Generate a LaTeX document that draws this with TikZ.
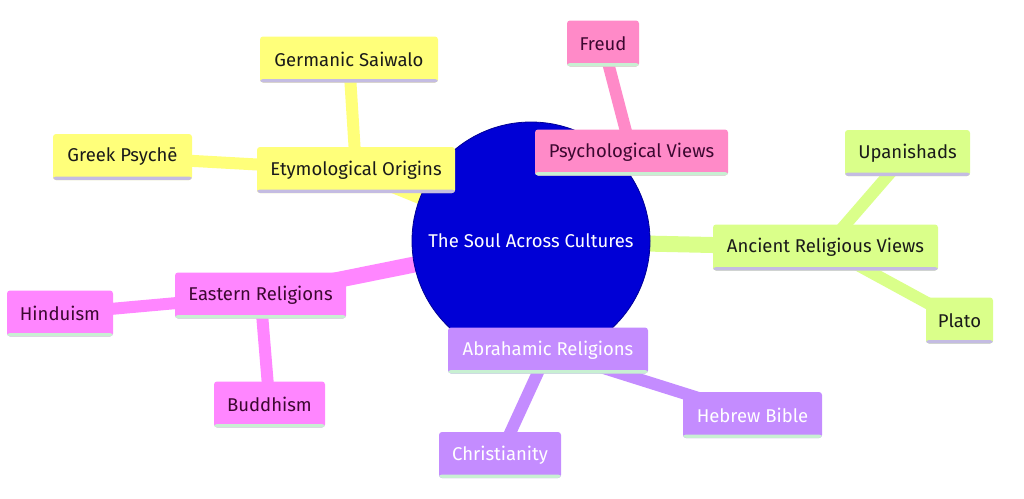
\documentclass[tikz,border=0pt]{standalone}
\usepackage{fontspec}
\setmainfont{Fira Sans}
\usetikzlibrary{backgrounds}
\definecolor{rootblue}{RGB}{0,0,214}
\definecolor{etyfill}{RGB}{255,255,122}
\definecolor{psyfill}{RGB}{255,138,200}
\definecolor{ancfill}{RGB}{218,255,138}
\definecolor{eastfill}{RGB}{255,134,255}
\definecolor{abrfill}{RGB}{196,140,255}
\definecolor{lavline}{RGB}{196,188,226}
\definecolor{mintline}{RGB}{200,240,210}
\definecolor{darktext}{RGB}{26,26,26}
\definecolor{plumtext}{RGB}{60,8,48}
\tikzset{
  box/.style={rectangle, rounded corners=3pt, minimum height=46pt, inner sep=0pt,
    font=\fontsize{18.5}{22}\selectfont},
  strip/.style={path picture={\fill[#1] (path picture bounding box.south west)
    rectangle ([yshift=3.5pt]path picture bounding box.south east);}},
  etybox/.style={box, fill=etyfill, text=darktext, strip=lavline},
  psybox/.style={box, fill=psyfill, text=plumtext, strip=mintline},
  ancbox/.style={box, fill=ancfill, text=darktext, strip=lavline},
  eastbox/.style={box, fill=eastfill, text=plumtext, strip=mintline},
  abrbox/.style={box, fill=abrfill, text=white, strip=mintline},
  trunk/.style={line width=16pt},
  twig/.style={line width=12pt}
}
\begin{document}
\begin{tikzpicture}[x=1pt, y=-1pt]
\useasboundingbox (0,0) rectangle (1024,498);
% centre
\node[circle, fill=rootblue, draw=rootblue!70!black, line width=0.8pt, minimum size=238pt,
  inner sep=0pt, text=white, font=\fontsize{18.5}{22}\selectfont] (root) at (531,241)
  {The Soul Across Cultures};
% etymology
\node[etybox, minimum width=198pt] (ety) at (356,170) {Etymological Origins};
\node[etybox, minimum width=178pt] (germ) at (349,59.5) {Germanic Saiwalo};
\node[etybox, minimum width=139pt] (greek) at (122.5,157) {Greek Psychē};
% psychology
\node[psybox, minimum width=193pt] (psy) at (631.5,152.5) {Psychological Views};
\node[psybox, minimum width=72pt] (freud) at (603,43.5) {Freud};
% ancient
\node[ancbox, minimum width=225pt] (anc) at (825.5,247.5) {Ancient Religious Views};
\node[ancbox, minimum width=125pt] (upan) at (907.5,153) {Upanishads};
\node[ancbox, minimum width=67pt] (plato) at (959.5,320.5) {Plato};
% abrahamic
\node[abrbox, minimum width=200pt] (abr) at (548,350.5) {Abrahamic Religions};
\node[abrbox, minimum width=139pt] (hebrew) at (752.5,415) {Hebrew Bible};
\node[abrbox, minimum width=122pt] (christ) at (500,455) {Christianity};
% eastern
\node[eastbox, minimum width=171pt] (east) at (260.5,295.5) {Eastern Religions};
\node[eastbox, minimum width=106pt] (hindu) at (60,313.5) {Hinduism};
\node[eastbox, minimum width=111pt] (buddh) at (269.5,404.5) {Buddhism};
% branches
\begin{scope}[on background layer]
\draw[trunk, etyfill] (root.center) -- (ety.center);
\draw[twig, etyfill] (ety.center) -- (germ.center);
\draw[twig, etyfill] (ety.center) -- (greek.center);
\draw[trunk, psyfill] (root.center) -- (psy.center);
\draw[twig, psyfill] (psy.center) -- (freud.center);
\draw[trunk, ancfill] (root.center) -- (anc.center);
\draw[twig, ancfill] (anc.center) -- (upan.center);
\draw[twig, ancfill] (anc.center) -- (plato.center);
\draw[trunk, abrfill] (root.center) -- (abr.center);
\draw[twig, abrfill] (abr.center) -- (hebrew.center);
\draw[twig, abrfill] (abr.center) -- (christ.center);
\draw[trunk, eastfill] (root.center) -- (east.center);
\draw[twig, eastfill] (east.center) -- (hindu.center);
\draw[twig, eastfill] (east.center) -- (buddh.center);
\end{scope}
\end{tikzpicture}
\end{document}
